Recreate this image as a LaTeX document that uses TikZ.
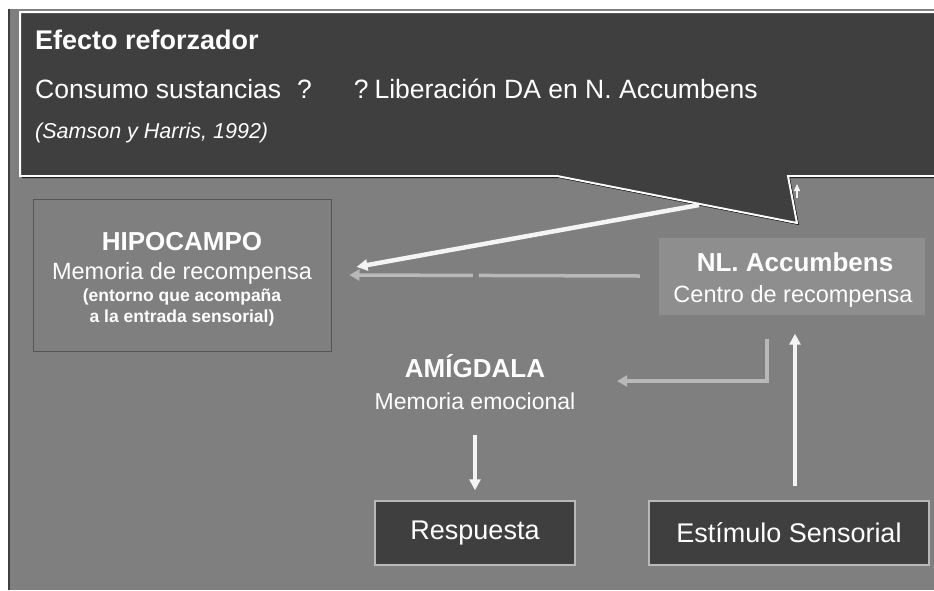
\documentclass[tikz,border=0pt]{standalone}
\usepackage{fontspec}
\setmainfont{Liberation Sans}
\usetikzlibrary{calc,arrows.meta}

\definecolor{fondo}{HTML}{7F7F7F}
\definecolor{oscuro}{HTML}{3F3F3F}
\definecolor{nlgris}{HTML}{8E8E8E}
\definecolor{borde}{HTML}{555555}
\definecolor{claro}{HTML}{B8B8B8}
\definecolor{blanco}{HTML}{F4F4F4}
\newcommand{\tam}[1]{\fontsize{#1}{#1}\selectfont}

\begin{document}
\begin{tikzpicture}[x=1pt,y=-1pt,
            texto/.style={text=white,anchor=base,inner sep=0pt},
            caja/.style={draw=claro,line width=1.5pt,fill=oscuro,text=white,minimum height=64pt,font=\tam{27}},
            flechab/.style={-{Triangle[length=11pt,width=11pt]},draw=blanco,line width=3.5pt},
            flechag/.style={-{Triangle[length=10pt,width=11pt]},draw=claro,line width=3.5pt}]
            \useasboundingbox (0,0) rectangle (934,590);
            \fill[white] (0,0) rectangle (934,590);
            \fill[fondo] (8,9) rectangle (934,590);
            \draw[oscuro,line width=1.5pt] (8.75,9) -- (8.75,590);
            % globo de arriba
            \fill[black] (22,14) -- (940,14) -- (940,178) -- (790,178) -- (799,225) -- (559,178) -- (22,178) -- cycle;
            \draw[white,line width=2pt,fill=oscuro] (20,12) -- (940,12) -- (940,176) -- (788,176) -- (797,223) -- (557,176) -- (20,176) -- cycle;
            \coordinate (salida) at (699,205);
            \coordinate (punta) at (797,198);
            \node (titulo) at (35,49) [texto,anchor=base west,font=\bfseries\tam{27}] {Efecto reforzador};
            \node (consumo) at (35,98) [texto,anchor=base west,font=\tam{26.5}] {Consumo sustancias\hspace{16pt}?\hspace{42pt}?\hspace{6pt}Liberación DA en N. Accumbens};
            \node (cita) at (35,138) [texto,anchor=base west,font=\itshape\tam{21.5}] {(Samson y Harris, 1992)};
            % cajas
            \node (hipo) at (182,275) [draw=borde,line width=1pt,minimum width=298pt,minimum height=152pt] {};
            \node (hipotit) at (182,250) [texto,font=\bfseries\tam{26}] {HIPOCAMPO};
            \node (hipomem) at (182,279) [texto,font=\tam{23.5}] {Memoria de recompensa};
            \node (hipoent) at (182,301) [texto,font=\bfseries\tam{17.5}] {(entorno que acompaña};
            \node (hipoent2) at (182,322) [texto,font=\bfseries\tam{17.5}] {a la entrada sensorial)};
            \node (nl) at (792,276) [fill=nlgris,minimum width=266pt,minimum height=77pt] {};
            \node (nltit) at (795,271) [texto,font=\bfseries\tam{26}] {NL. Accumbens};
            \node (nlcen) at (793,302) [texto,font=\tam{23.5}] {Centro de recompensa};
            \node (amig) at (475,377) [texto,font=\bfseries\tam{26}] {AMÍGDALA};
            \node (emoc) at (475,409) [texto,font=\tam{23}] {Memoria emocional};
            \coordinate (amigder) at (617,381);
            \node (resp) at (475,533) [caja,minimum width=200pt] {Respuesta};
            \node (est) at (789,533) [caja,minimum width=280pt] {Estímulo Sensorial};
            % flechas
            \draw[flechab,line width=4.5pt] (salida) -- ($(hipo.east)+(25,-8)$);
            \draw[flechag,dash pattern=on 161pt off 6pt on 400pt] ($(nl.west)+(-19,0)$) -- ($(hipo.east)+(18,0)$);
            \draw[flechag] ($(nl.south)+(-25,24)$) |- (amigder);
            \draw[flechab] ($(est.north)+(6,-14)$) -- ($(nl.south)+(3,19)$);
            \draw[flechab] ($(emoc.south)+(0,26)$) -- ($(resp.north)+(0,-10)$);
            \draw[blanco,-{Triangle[length=7pt,width=6pt]},line width=1.5pt] (punta) -- ++(0,-14);
\end{tikzpicture}
\end{document}
